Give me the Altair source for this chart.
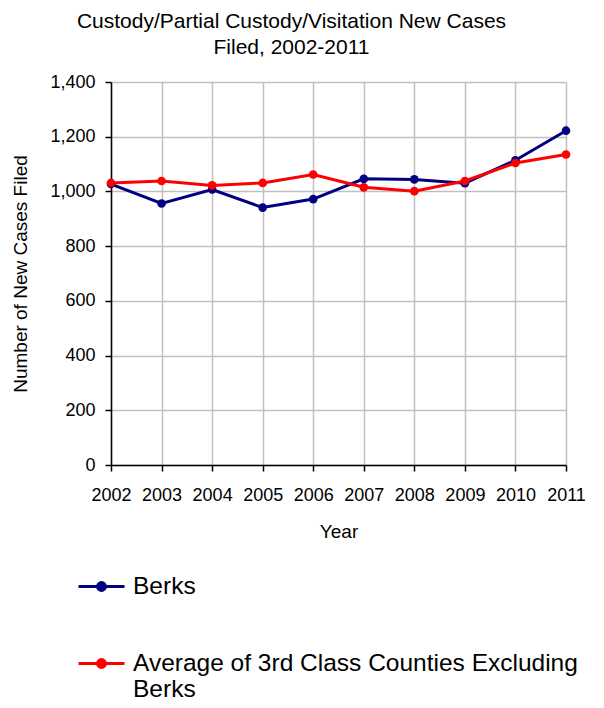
import altair as alt
import pandas as pd

years = [2002, 2003, 2004, 2005, 2006, 2007, 2008, 2009, 2010, 2011]
berks = [1027, 956, 1007, 941, 972, 1046, 1044, 1030, 1114, 1222]
avg3 = [1031, 1038, 1022, 1031, 1062, 1015, 1001, 1038, 1104, 1135]
series_names = ["Berks", "Average of 3rd Class Counties Excluding Berks"]
series_colors = ["#000080", "#FF0000"]
y_ticks = [0, 200, 400, 600, 800, 1000, 1200, 1400]

rows = []
for name, vals in zip(series_names, [berks, avg3]):
    for yr, v in zip(years, vals):
        rows.append({"Year": yr, "Cases": v, "Series": name})
df = pd.DataFrame(rows)

FONT = "Liberation Sans"

legend_path = ("M-1,0H1M-0.17,0A0.17,0.17,0,1,1,0.17,0"
               "A0.17,0.17,0,1,1,-0.17,0Z")

chart = alt.Chart(df).mark_line(
    strokeWidth=3,
    point=alt.OverlayMarkDef(filled=True, size=75),
).encode(
    x=alt.X("Year:Q",
            scale=alt.Scale(domain=[2002, 2011], nice=False, zero=False),
            axis=alt.Axis(values=years, format="d", title="Year",
                          labelFontSize=18, titleFontSize=19,
                          labelPadding=15, titlePadding=18,
                          labelOverlap=False, labelFlush=False,
                          titleFontWeight="normal")),
    y=alt.Y("Cases:Q",
            scale=alt.Scale(domain=[0, 1400], nice=False),
            axis=alt.Axis(values=y_ticks, format=",d",
                          title="Number of New Cases Filed",
                          labelFontSize=18, titleFontSize=19,
                          labelPadding=10, titlePadding=19,
                          labelOverlap=False,
                          titleFontWeight="normal")),
    color=alt.Color("Series:N",
                    scale=alt.Scale(domain=series_names, range=series_colors),
                    legend=alt.Legend(
                        title=None, orient="none", legendX=-34, legendY=480,
                        direction="vertical",
                        symbolType=legend_path, symbolSize=2116,
                        symbolStrokeWidth=3,
                        labelFontSize=24.5, labelFont=FONT, labelColor="black",
                        labelOffset=7, rowPadding=41, labelLimit=600,
                        labelExpr="datum.label == 'Average of 3rd Class Counties Excluding Berks' ? ['Average of 3rd Class Counties Excluding', 'Berks'] : datum.label",
                    )),
).properties(
    width=455,
    height=383,
    title=alt.TitleParams(
        text=["Custody/Partial Custody/Visitation New  Cases", "Filed, 2002-2011"],
        fontSize=21, font=FONT, fontWeight="normal", color="black",
        lineHeight=26, offset=15, dx=-47, anchor="middle",
    ),
    autosize=alt.AutoSizeParams(type="none"),
    padding={"left": 103, "top": 74, "right": 30, "bottom": 243},
).configure_axis(
    labelFont=FONT, titleFont=FONT, labelColor="black", titleColor="black",
    domainColor="black", domainWidth=1.5, tickColor="black", tickSize=6,
    tickWidth=1.5, gridColor="#C0C0C0", gridWidth=1.5,
).configure_view(stroke=None)

chart.save("out.html", embed_options={"renderer": "svg", "actions": False})
